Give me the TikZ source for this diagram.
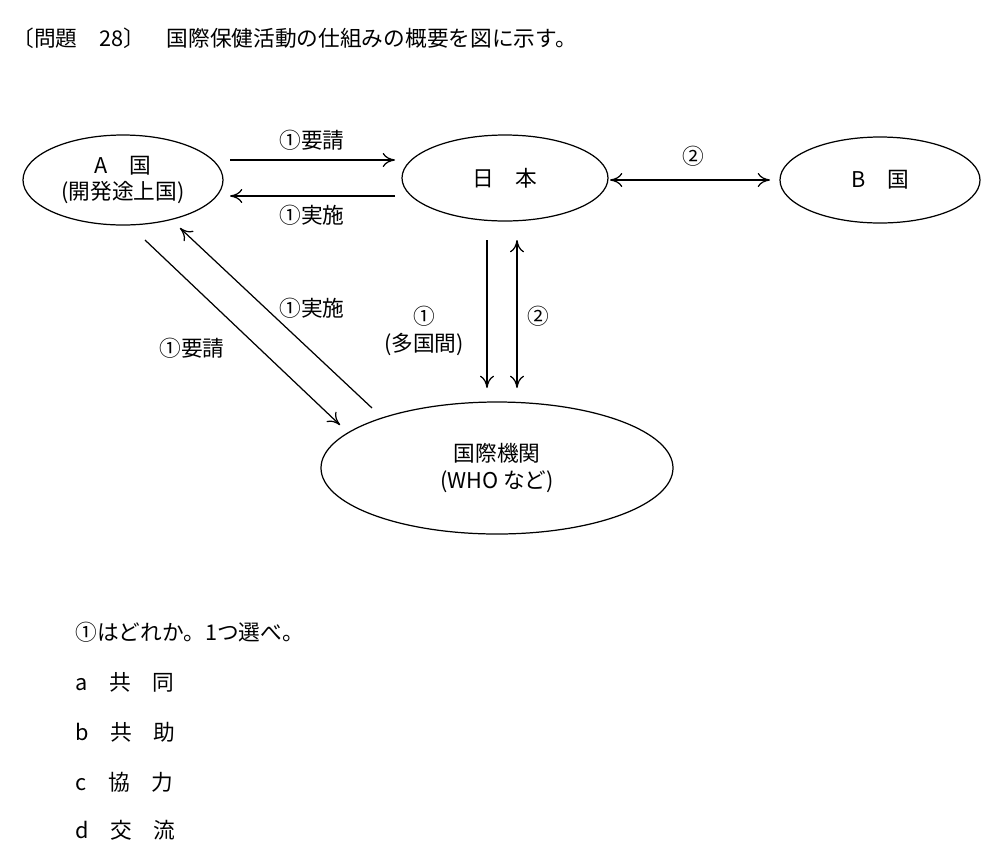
\documentclass[tikz,border=0pt]{standalone}
\usepackage{fontspec}
\setmainfont{Liberation Serif}
\newfontfamily\cjk{Noto Sans CJK JP}[Scale=0.95]
\usetikzlibrary{arrows.meta}
\begin{document}
\begin{tikzpicture}[x=0.02cm,y=-0.02cm,
  el/.style={draw,line width=0.7pt},
  ar/.style={-{To[length=7pt,width=8pt]},line width=0.7pt},
  lb/.style={font=\cjk\fontsize{13pt}{15pt}\selectfont,align=center,inner sep=1pt},
  tx/.style={font=\cjk\fontsize{13pt}{15pt}\selectfont,anchor=west,inner sep=0pt}]
\useasboundingbox (0,0) rectangle (1000,866);
\node[tx] (title) at (12,38) {〔問題\quad 28〕\quad 国際保健活動の仕組みの概要を図に示す。};
\draw[el] (123,180) ellipse [x radius=100,y radius=45];
\node[lb] (A) at (123,180) {A\quad 国\\(開発途上国)};
\draw[el] (505,178) ellipse [x radius=103,y radius=43];
\node[lb] (J) at (505,178) {日\quad 本};
\draw[el] (880,180) ellipse [x radius=100,y radius=43];
\node[lb] (B) at (880,180) {B\quad 国};
\draw[el] (497,468) ellipse [x radius=176,y radius=66];
\node[lb] (W) at (497,468) {国際機関\\(WHO など)};
\coordinate (a1) at (230,160); \coordinate (j1) at (395,160);
\coordinate (a2) at (230,196); \coordinate (j2) at (395,196);
\draw[ar] (a1) -- (j1); \node[lb] (l1) at (312,140) {①要請};
\draw[ar] (j2) -- (a2); \node[lb] (l2) at (312,215) {①実施};
\coordinate (j3) at (610,180); \coordinate (b3) at (770,180);
\draw[ar,{To[length=7pt,width=8pt]}-{To[length=7pt,width=8pt]}] (j3) -- (b3);
\node[lb] (l3) at (693,156) {②};
\coordinate (j4) at (487,240); \coordinate (w4) at (487,388);
\coordinate (j5) at (517,240); \coordinate (w5) at (517,388);
\draw[ar] (j4) -- (w4);
\draw[ar,{To[length=7pt,width=8pt]}-{To[length=7pt,width=8pt]}] (j5) -- (w5);
\node[lb] (l4) at (424,331) {①\\(多国間)};
\node[lb] (l5) at (538,316) {②};
\coordinate (a6) at (145,240); \coordinate (w6) at (340,425);
\coordinate (w7) at (372,408); \coordinate (a7) at (180,228);
\draw[ar] (a6) -- (w6); \node[lb] (l6) at (192,348) {①要請};
\draw[ar] (w7) -- (a7); \node[lb] (l7) at (312,308) {①実施};
\node[tx] (q) at (75,632) {①はどれか。1つ選べ。};
\node[tx] (qa) at (75,682) {a\quad 共\quad 同};
\node[tx] (qb) at (75,732) {b\quad 共\quad 助};
\node[tx] (qc) at (75,782) {c\quad 協\quad 力};
\node[tx] (qd) at (75,830) {d\quad 交\quad 流};
\end{tikzpicture}
\end{document}
